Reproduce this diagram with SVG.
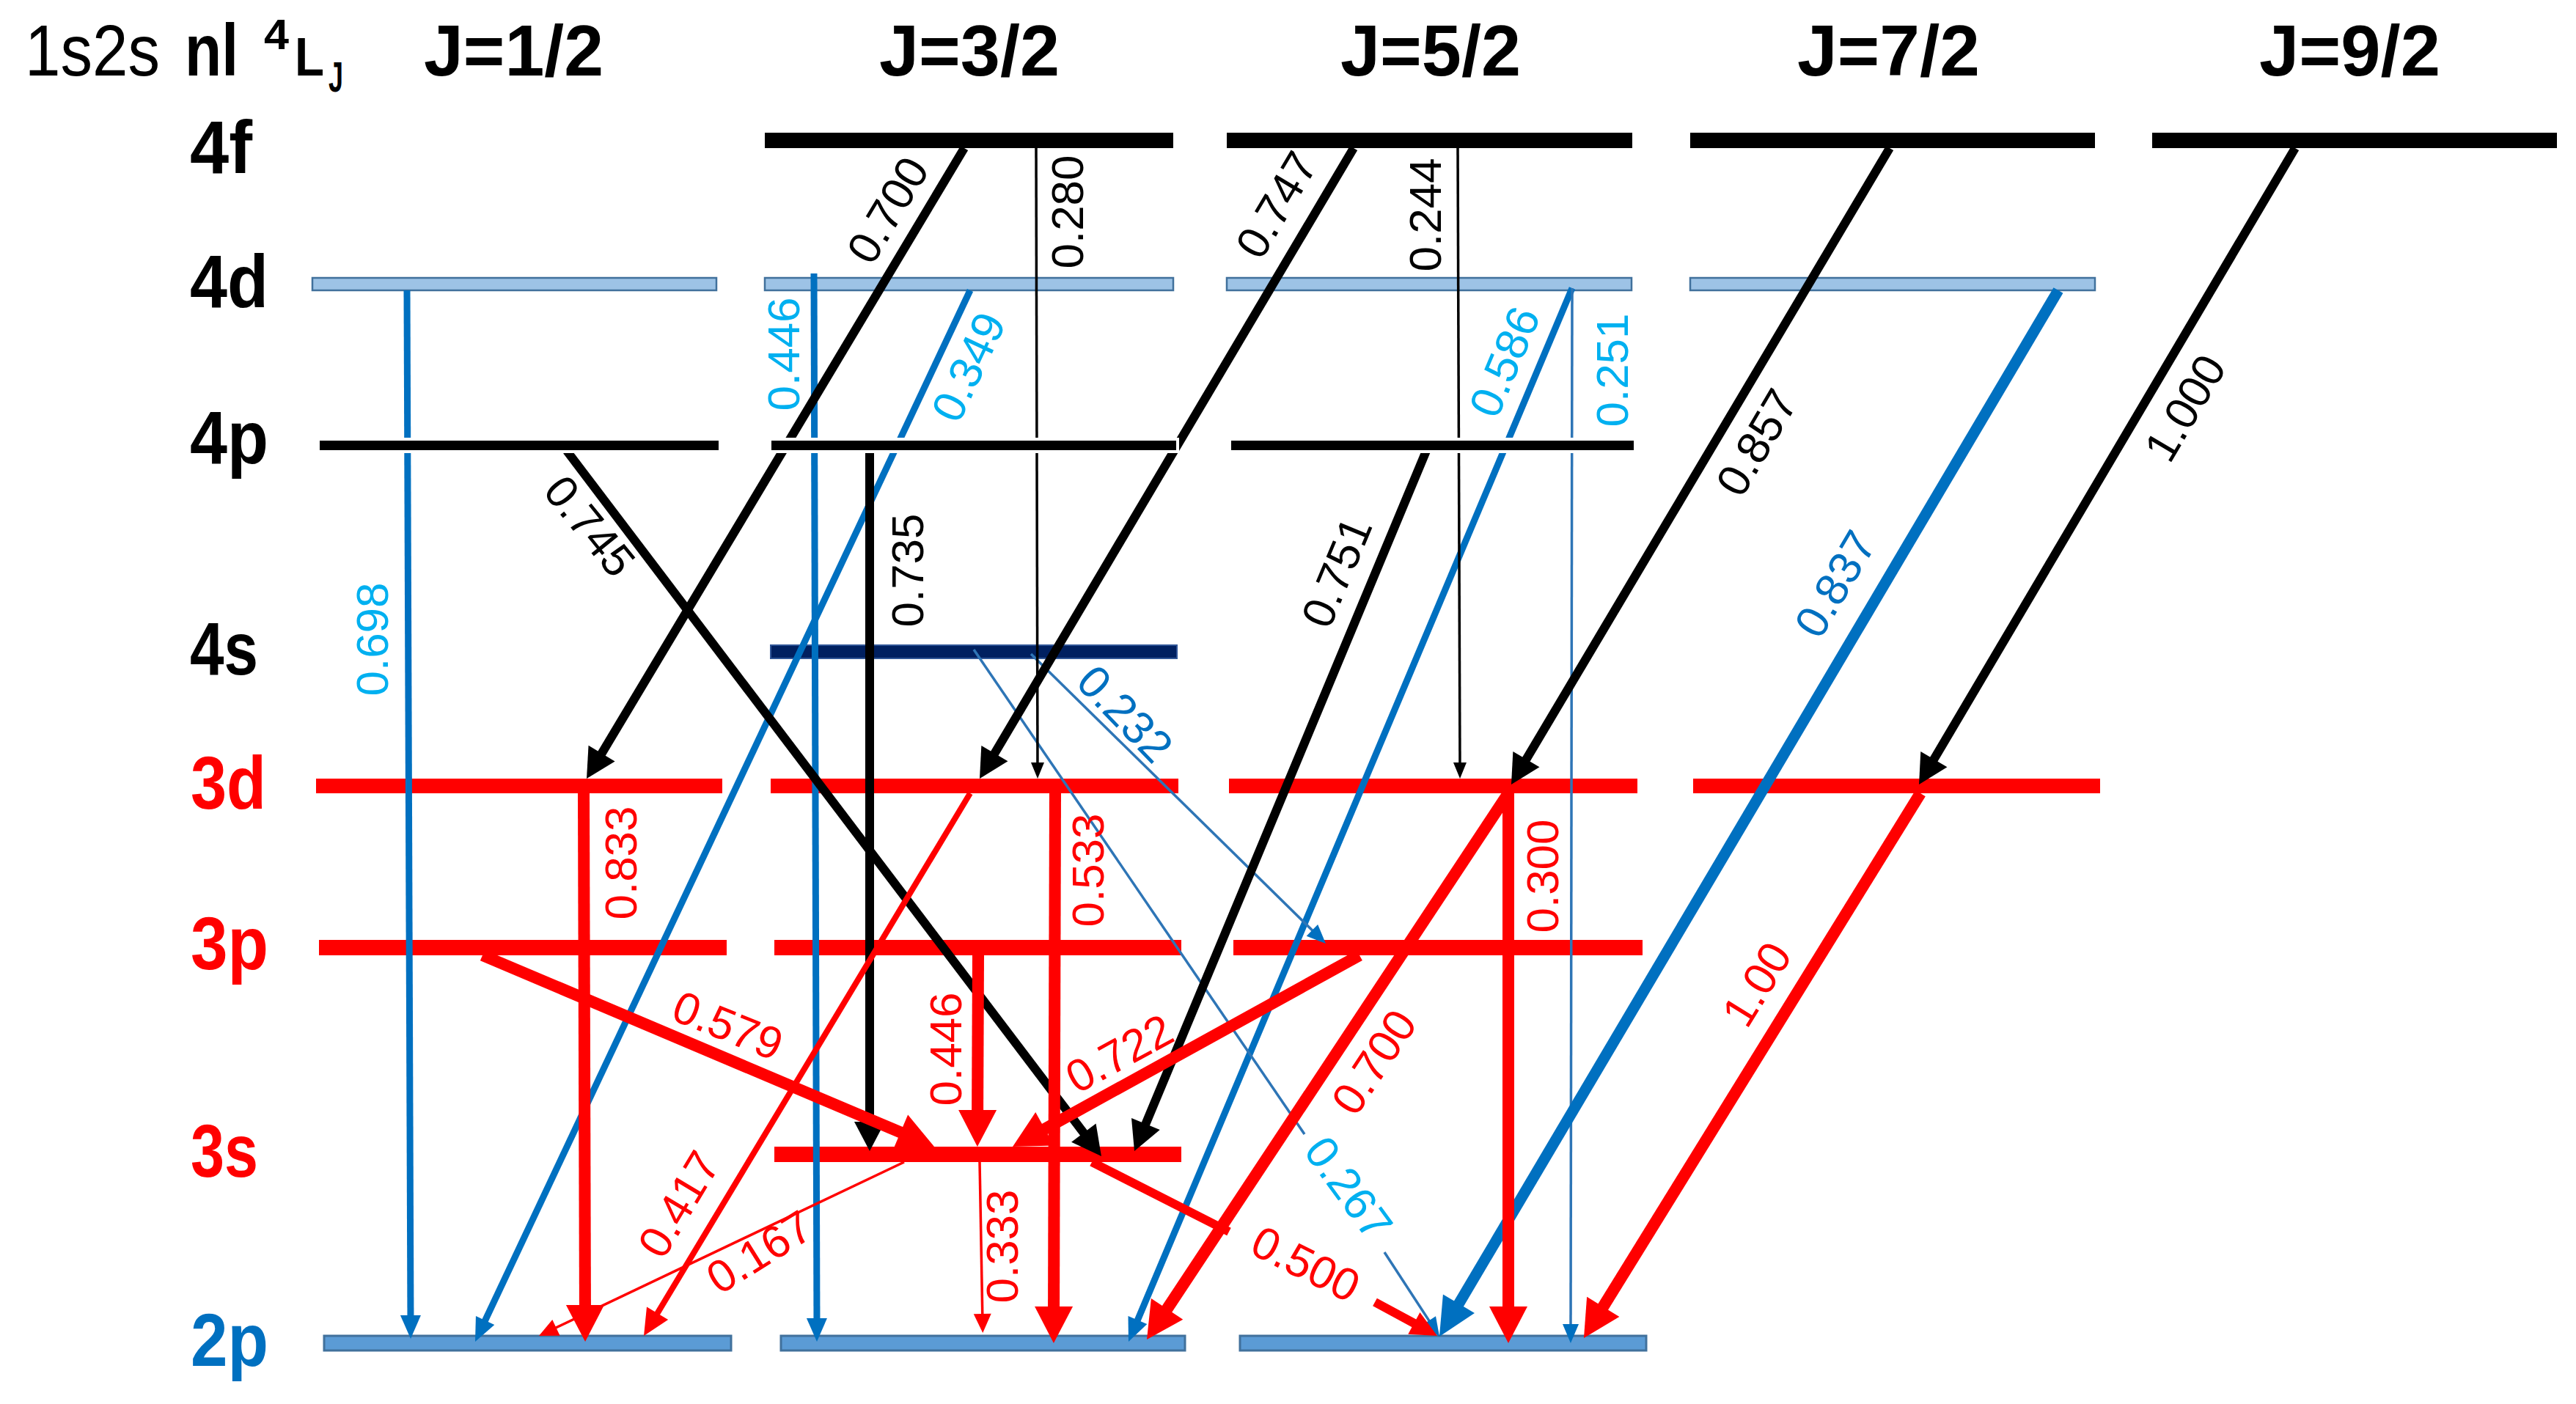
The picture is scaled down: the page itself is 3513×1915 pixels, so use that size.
<svg xmlns="http://www.w3.org/2000/svg" width="3513" height="1915" viewBox="0 0 3513 1915">
<defs>
<style>
.big{font-family:"Liberation Sans",Arial,sans-serif;font-weight:bold;font-size:102px}
.ttl{font-family:"Liberation Sans",Arial,sans-serif}
.lab{font-family:"Liberation Sans",Arial,sans-serif;font-size:62px;text-anchor:middle}
.red{fill:#FF0000}.blk{fill:#000000}.lb{fill:#00B0F0}.db{fill:#0070C0}
.b-blk{fill:#000000}
.b-blk4p{fill:#000000;stroke:#FFFFFF;stroke-width:4}
.b-4d{fill:#9DC3E6;stroke:#41719C;stroke-width:2.5}
.b-4s{fill:#002060;stroke:#2F5597;stroke-width:2}
.b-red{fill:#FF0000}
.b-2p{fill:#5B9BD5;stroke:#41719C;stroke-width:3}
line{fill:none;stroke-linecap:butt}
.c-blk{stroke:#000000;stroke-width:12}
.c-blk-t{stroke:#000000;stroke-width:3.5}
.c-blu{stroke:#0070C0;stroke-width:9}
.c-blu-t{stroke:#2E75B6;stroke-width:3.5}
.c-blu-k{stroke:#0070C0;stroke-width:15}
.c-red{stroke:#FF0000;stroke-width:16}
.c-red-m{stroke:#FF0000;stroke-width:8}
.c-red-500{stroke:#FF0000;stroke-width:12}
.c-red-t{stroke:#FF0000;stroke-width:3.5}
</style>
<marker id="ah-blk" markerUnits="userSpaceOnUse" markerWidth="40" markerHeight="42" refX="20" refY="21" orient="auto" overflow="visible"><path d="M0,0 L40,21 L0,42 Z" fill="#000000"/></marker>
<marker id="ah-blk-t" markerUnits="userSpaceOnUse" markerWidth="22" markerHeight="18" refX="11" refY="9" orient="auto" overflow="visible"><path d="M0,0 L22,9 L0,18 Z" fill="#000000"/></marker>
<marker id="ah-blu" markerUnits="userSpaceOnUse" markerWidth="32" markerHeight="28" refX="16" refY="14" orient="auto" overflow="visible"><path d="M0,0 L32,14 L0,28 Z" fill="#0070C0"/></marker>
<marker id="ah-blu-t" markerUnits="userSpaceOnUse" markerWidth="26" markerHeight="22" refX="13" refY="11" orient="auto" overflow="visible"><path d="M0,0 L26,11 L0,22 Z" fill="#0070C0"/></marker>
<marker id="ah-blu-k" markerUnits="userSpaceOnUse" markerWidth="52" markerHeight="50" refX="26" refY="25" orient="auto" overflow="visible"><path d="M0,0 L52,25 L0,50 Z" fill="#0070C0"/></marker>
<marker id="ah-red" markerUnits="userSpaceOnUse" markerWidth="50" markerHeight="52" refX="25" refY="26" orient="auto" overflow="visible"><path d="M0,0 L50,26 L0,52 Z" fill="#FF0000"/></marker>
<marker id="ah-red-m" markerUnits="userSpaceOnUse" markerWidth="36" markerHeight="34" refX="18" refY="17" orient="auto" overflow="visible"><path d="M0,0 L36,17 L0,34 Z" fill="#FF0000"/></marker>
<marker id="ah-red-t" markerUnits="userSpaceOnUse" markerWidth="26" markerHeight="24" refX="13" refY="12" orient="auto" overflow="visible"><path d="M0,0 L26,12 L0,24 Z" fill="#FF0000"/></marker>
</defs>
<rect x="0" y="0" width="3513" height="1915" fill="#FFFFFF"/>

<g id="title">
<text class="ttl" x="34" y="103" font-size="98" textLength="184" lengthAdjust="spacingAndGlyphs">1s2s</text>
<text class="ttl" x="252" y="103" font-size="100" font-weight="bold" textLength="73" lengthAdjust="spacingAndGlyphs">nl</text>
<text class="ttl" x="360" y="67" font-size="58" font-weight="bold" textLength="34" lengthAdjust="spacingAndGlyphs">4</text>
<text class="ttl" x="402" y="103" font-size="75" font-weight="bold" textLength="40" lengthAdjust="spacingAndGlyphs">L</text>
<text class="ttl" x="448" y="125" font-size="58" font-weight="bold" textLength="20" lengthAdjust="spacingAndGlyphs">J</text>
</g>
<g id="j-headers">
<text class="ttl" x="578" y="103" font-size="98" font-weight="bold" textLength="245" lengthAdjust="spacingAndGlyphs">J=1/2</text>
<text class="ttl" x="1199" y="103" font-size="98" font-weight="bold" textLength="246" lengthAdjust="spacingAndGlyphs">J=3/2</text>
<text class="ttl" x="1828" y="103" font-size="98" font-weight="bold" textLength="246" lengthAdjust="spacingAndGlyphs">J=5/2</text>
<text class="ttl" x="2451" y="103" font-size="98" font-weight="bold" textLength="249" lengthAdjust="spacingAndGlyphs">J=7/2</text>
<text class="ttl" x="3081" y="103" font-size="98" font-weight="bold" textLength="247" lengthAdjust="spacingAndGlyphs">J=9/2</text>
</g>
<g id="level-names">
<text class="big blk" x="259" y="236" textLength="85" lengthAdjust="spacingAndGlyphs">4f</text>
<text class="big blk" x="259" y="419" textLength="107" lengthAdjust="spacingAndGlyphs">4d</text>
<text class="big blk" x="259" y="632" textLength="107" lengthAdjust="spacingAndGlyphs">4p</text>
<text class="big blk" x="259" y="920" textLength="93" lengthAdjust="spacingAndGlyphs">4s</text>
<text class="big red" x="260" y="1103" textLength="103" lengthAdjust="spacingAndGlyphs">3d</text>
<text class="big red" x="260" y="1322" textLength="106" lengthAdjust="spacingAndGlyphs">3p</text>
<text class="big red" x="260" y="1605" textLength="92" lengthAdjust="spacingAndGlyphs">3s</text>
<text class="big db" x="260" y="1863" textLength="106" lengthAdjust="spacingAndGlyphs">2p</text>
</g>

<g id="lvl-4d-J12"><rect class="b-4d" x="426" y="379" width="551" height="17"/></g>
<g id="lvl-4d-J32"><rect class="b-4d" x="1043" y="379" width="557" height="17"/></g>
<g id="lvl-4d-J52"><rect class="b-4d" x="1673" y="379" width="552" height="17"/></g>
<g id="lvl-4d-J72"><rect class="b-4d" x="2305" y="379" width="552" height="17"/></g>
<g id="lvl-4s-J32"><rect class="b-4s" x="1051" y="880" width="554" height="18"/></g>
<g id="lvl-3d-J12"><rect class="b-red" x="431" y="1062" width="554" height="20"/></g>
<g id="lvl-3d-J32"><rect class="b-red" x="1051" y="1062" width="556" height="20"/></g>
<g id="lvl-3d-J52"><rect class="b-red" x="1676" y="1062" width="557" height="20"/></g>
<g id="lvl-3d-J72"><rect class="b-red" x="2309" y="1062" width="555" height="20"/></g>
<g id="lvl-3p-J12"><rect class="b-red" x="435" y="1282" width="556" height="21"/></g>
<g id="lvl-3p-J32"><rect class="b-red" x="1056" y="1282" width="555" height="21"/></g>
<g id="lvl-3p-J52"><rect class="b-red" x="1682" y="1282" width="558" height="21"/></g>
<g id="lvl-3s-J32"><rect class="b-red" x="1056" y="1564" width="555" height="21"/></g>
<g id="lvl-2p-J12"><rect class="b-2p" x="442" y="1822" width="555" height="20"/></g>
<g id="lvl-2p-J32"><rect class="b-2p" x="1065" y="1822" width="551" height="20"/></g>
<g id="lvl-2p-J52"><rect class="b-2p" x="1691" y="1822" width="554" height="20"/></g>

<g id="connectors">
<line class="c-blu" x1="555" y1="396" x2="560" y2="1810" marker-end="url(#ah-blu)"/>
<line class="c-blu" x1="1110" y1="373" x2="1114" y2="1814" marker-end="url(#ah-blu)"/>
<line class="c-blu" x1="1323" y1="396" x2="654.8" y2="1815.5" marker-end="url(#ah-blu)"/>
<line class="c-blu" x1="2144" y1="393" x2="1545.2" y2="1815.3" marker-end="url(#ah-blu)"/>
<line class="c-blu-t" x1="2144" y1="393" x2="2142" y2="1819" marker-end="url(#ah-blu-t)"/>
<line class="c-blu-k" x1="2807" y1="396" x2="1976.2" y2="1800.6" marker-end="url(#ah-blu-k)"/>
<line class="c-blu-t" x1="1406" y1="892" x2="1798.7" y2="1277.9" marker-end="url(#ah-blu-t)"/>
<line class="c-blu-t" x1="1328" y1="886" x2="1779" y2="1547"/>
<line class="c-blu-t" x1="1888" y1="1708" x2="1955.9" y2="1812.1" marker-end="url(#ah-blu-t)"/>
<line class="c-blk" x1="1315" y1="202" x2="810.3" y2="1044.8" marker-end="url(#ah-blk)"/>
<line class="c-blk" x1="1846" y1="202" x2="1346.2" y2="1044.8" marker-end="url(#ah-blk)"/>
<line class="c-blk" x1="2577" y1="202" x2="2071.2" y2="1052.8" marker-end="url(#ah-blk)"/>
<line class="c-blk" x1="3130" y1="202" x2="2627.2" y2="1052.8" marker-end="url(#ah-blk)"/>
<line class="c-blk" x1="773" y1="615" x2="1489.9" y2="1561.1" marker-end="url(#ah-blk)"/>
<line class="c-blk" x1="1186" y1="615" x2="1186" y2="1550" marker-end="url(#ah-blk)"/>
<line class="c-blk" x1="1945" y1="615" x2="1554.7" y2="1551.5" marker-end="url(#ah-blk)"/>
<line class="c-blk-t" x1="1413" y1="202" x2="1415" y2="1051" marker-end="url(#ah-blk-t)"/>
<line class="c-blk-t" x1="1988" y1="202" x2="1991" y2="1051" marker-end="url(#ah-blk-t)"/>
<line class="c-red" x1="796" y1="1082" x2="798" y2="1805" marker-end="url(#ah-red)"/>
<line class="c-red" x1="1439" y1="1082" x2="1437" y2="1807" marker-end="url(#ah-red)"/>
<line class="c-red" x1="2057" y1="1082" x2="2057" y2="1807" marker-end="url(#ah-red)"/>
<line class="c-red" x1="658" y1="1303" x2="1251" y2="1554.2" marker-end="url(#ah-red)"/>
<line class="c-red" x1="1334" y1="1303" x2="1333" y2="1539" marker-end="url(#ah-red)"/>
<line class="c-red" x1="1854" y1="1303" x2="1402.9" y2="1551.9" marker-end="url(#ah-red)"/>
<line class="c-red" x1="2057" y1="1082" x2="1577.8" y2="1806.2" marker-end="url(#ah-red)"/>
<line class="c-red" x1="2619" y1="1082" x2="2173.1" y2="1803.7" marker-end="url(#ah-red)"/>
<line class="c-red-500" x1="1489" y1="1585" x2="1676" y2="1680"/>
<line class="c-red-500" x1="1875" y1="1776" x2="1944.2" y2="1813.4" marker-end="url(#ah-red-m)"/>
<line class="c-red-m" x1="1323" y1="1082" x2="887.3" y2="1806.6" marker-end="url(#ah-red-m)"/>
<line class="c-red-t" x1="1336" y1="1585" x2="1340" y2="1805" marker-end="url(#ah-red-t)"/>
<line class="c-red-t" x1="1233" y1="1585" x2="746.7" y2="1816.4" marker-end="url(#ah-red-t)"/>
</g>

<g id="lvl-4f-J32"><rect class="b-blk" x="1043" y="181" width="557" height="21"/></g>
<g id="lvl-4f-J52"><rect class="b-blk" x="1673" y="181" width="553" height="21"/></g>
<g id="lvl-4f-J72"><rect class="b-blk" x="2305" y="181" width="552" height="21"/></g>
<g id="lvl-4f-J92"><rect class="b-blk" x="2935" y="181" width="552" height="21"/></g>
<g id="lvl-4p-J12"><rect class="b-blk4p" x="434" y="599" width="548" height="17"/></g>
<g id="lvl-4p-J32"><rect class="b-blk4p" x="1050" y="599" width="556" height="17"/></g>
<g id="lvl-4p-J52"><rect class="b-blk4p" x="1677" y="599" width="553" height="17"/></g>

<g id="edge-labels">
<text class="lab blk" transform="translate(1210,286) rotate(-59.1)" dy="0.36em">0.700</text>
<text class="lab blk" transform="translate(1455,289) rotate(-90)" dy="0.36em">0.280</text>
<text class="lab blk" transform="translate(1740,279) rotate(-59.3)" dy="0.36em">0.747</text>
<text class="lab blk" transform="translate(1943,293) rotate(-90)" dy="0.36em">0.244</text>
<text class="lab blk" transform="translate(2395,603) rotate(-59.5)" dy="0.36em">0.857</text>
<text class="lab blk" transform="translate(2979,556) rotate(-59.4)" dy="0.36em">1.000</text>
<text class="lab blk" transform="translate(805,717) rotate(51)" dy="0.36em">0.745</text>
<text class="lab blk" transform="translate(1237,778) rotate(-90)" dy="0.36em">0.735</text>
<text class="lab blk" transform="translate(1822,780) rotate(-67.4)" dy="0.36em">0.751</text>
<text class="lab lb" transform="translate(507,872) rotate(-90)" dy="0.36em">0.698</text>
<text class="lab lb" transform="translate(1068,483) rotate(-90)" dy="0.36em">0.446</text>
<text class="lab lb" transform="translate(1320,500) rotate(-64.9)" dy="0.36em">0.349</text>
<text class="lab lb" transform="translate(2051,493) rotate(-67.2)" dy="0.36em">0.586</text>
<text class="lab lb" transform="translate(2198,505) rotate(-90)" dy="0.36em">0.251</text>
<text class="lab db" transform="translate(2502,796) rotate(-59.4)" dy="0.36em">0.837</text>
<text class="lab db" transform="translate(1535,973) rotate(46)" dy="0.36em">0.232</text>
<text class="lab lb" transform="translate(1840,1620) rotate(54)" dy="0.36em">0.267</text>
<text class="lab red" transform="translate(846,1177) rotate(-90)" dy="0.36em">0.833</text>
<text class="lab red" transform="translate(1483,1187) rotate(-90)" dy="0.36em">0.533</text>
<text class="lab red" transform="translate(2103,1195) rotate(-90)" dy="0.36em">0.300</text>
<text class="lab red" transform="translate(993,1398) rotate(22)" dy="0.36em">0.579</text>
<text class="lab red" transform="translate(1289,1431) rotate(-90)" dy="0.36em">0.446</text>
<text class="lab red" transform="translate(1526,1436) rotate(-28.7)" dy="0.36em">0.722</text>
<text class="lab red" transform="translate(1873,1448) rotate(-56.5)" dy="0.36em">0.700</text>
<text class="lab red" transform="translate(2395,1342) rotate(-58.3)" dy="0.36em">1.00</text>
<text class="lab red" transform="translate(1781,1723) rotate(26.6)" dy="0.36em">0.500</text>
<text class="lab red" transform="translate(925,1642) rotate(-59)" dy="0.36em">0.417</text>
<text class="lab red" transform="translate(1366,1700) rotate(-90)" dy="0.36em">0.333</text>
<text class="lab red" transform="translate(1035,1707) rotate(-32)" dy="0.36em">0.167</text>
</g>
</svg>
